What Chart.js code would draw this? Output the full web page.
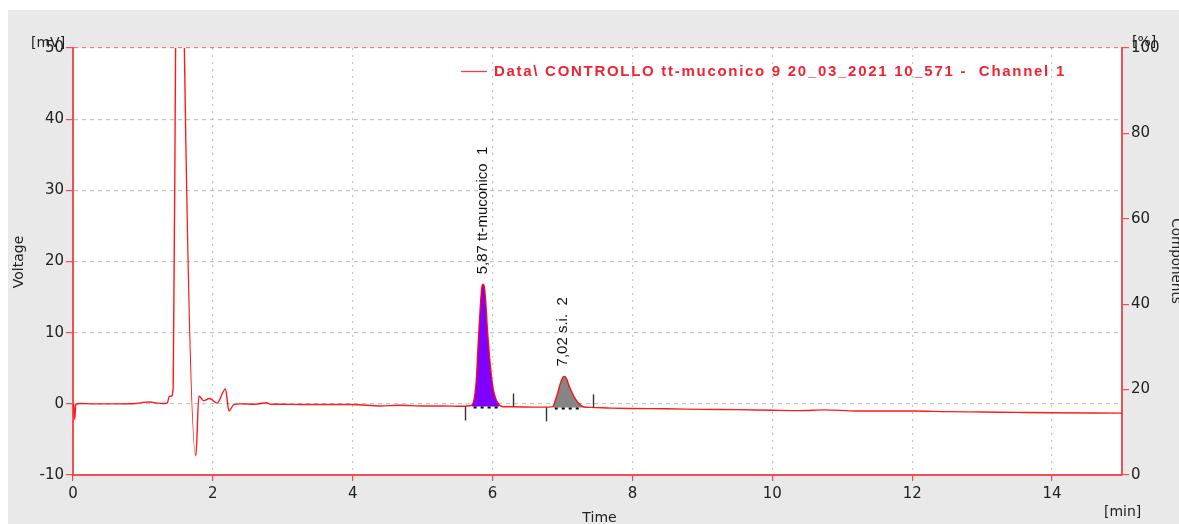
<!DOCTYPE html>
<html><head><meta charset="utf-8">
<script src="https://cdn.jsdelivr.net/npm/chart.js@4/dist/chart.umd.min.js"></script>
<style>
html,body{margin:0;padding:0;background:#fff;overflow:hidden;}
#c{position:absolute;left:0;top:0;}
</style></head><body>
<canvas id="c" width="1179" height="524"></canvas>
<script>
// ---- data ----
const times = [0, 0.012, 0.025, 0.04, 0.1, 0.3, 0.6, 0.9, 1.0, 1.1, 1.2, 1.3, 1.347, 1.376, 1.41, 1.433, 1.47, 1.53, 1.585, 1.757, 1.80, 1.87, 1.95, 2.06, 2.18, 2.23, 2.30, 2.39, 2.6, 2.77, 2.82, 3.0, 3.3, 3.6, 4.0, 4.4, 4.67, 5.0, 5.3, 5.55, 5.70, 5.74, 5.77, 5.79, 5.82, 5.845, 5.865, 5.88, 5.90, 5.925, 5.95, 5.98, 6.01, 6.05, 6.10, 6.15, 6.3, 6.6, 6.80, 6.86, 6.89, 6.93, 6.97, 7.01, 7.03, 7.06, 7.09, 7.13, 7.17, 7.22, 7.31, 7.40, 7.7, 8.0, 8.5, 9.0, 9.5, 10.0, 10.4, 10.75, 11.2, 11.6, 12.0, 12.5, 13.0, 13.5, 14.0, 14.5, 15.0];
const voltages = [0, -0.3, -2.2, -0.1, 0.05, 0, 0, 0.05, 0.2, 0.25, 0.1, 0.05, 0.1, 1.0, 1.1, 2.4, 55, 110, 55, -7.3, 1.1, 0.45, 0.75, 0.1, 2.1, -1.0, -0.1, 0, -0.05, 0.15, -0.05, -0.05, -0.1, -0.1, -0.1, -0.3, -0.2, -0.3, -0.3, -0.35, -0.2, 0.9, 3.8, 7.8, 13.0, 16.3, 16.8, 16.5, 14.6, 10.6, 7.3, 4.2, 2.0, 0.6, -0.2, -0.4, -0.42, -0.46, -0.46, -0.4, 0.3, 1.5, 2.9, 3.8, 3.85, 3.5, 2.6, 1.7, 0.9, 0.2, -0.45, -0.5, -0.6, -0.65, -0.7, -0.78, -0.82, -0.9, -0.95, -0.85, -1.0, -1.0, -1.0, -1.1, -1.15, -1.2, -1.25, -1.28, -1.3];

const xTickStep = 2;            // 0,2,...,14 [min]
const leftTickStep = 10;        // -10 ... 50 [mV]
const rightTickStep = 20;       // 0 ... 100 [%]
const xRange = [0, 15];
const leftRange = [-10, 50];
const rightRange = [0, 100];

const peakRT = [5.87, 7.02];
const peakApex = [16.8, 3.85];
const peakLabels = ['5,87 tt-muconico  1', '7,02 s.i.  2'];
const peakStart = [5.61, 6.77];
const peakEnd = [6.29, 7.44];
const fillFrom = [5.70, 6.86];
const fillTo = [6.12, 7.31];
const baseLevel = [-0.38, -0.5];
const peakColors = ['#8000ff', '#858585'];

const legendText = 'Data\\ CONTROLLO tt-muconico 9 20_03_2021 10_571 -  Channel 1';
const xTitle = 'Time', yTitle = 'Voltage', y2Title = 'Components';
const xUnit = '[min]', yUnit = '[mV]', y2Unit = '[%]';

// ---- styling ----
const RED = 'rgba(240,50,60,0.85)';
const GRID = '#c4c4c4';
const TICKFONT = {family: 'DejaVu Sans', size: 15};
const TXT = '#222';

const pts = times.map((t, i) => ({x: t, y: voltages[i]}));
const segment = (a, b) => pts.filter(p => p.x >= a && p.x <= b);

const bgPlugin = {
  id: 'bg',
  beforeDraw(chart) {
    const {ctx, chartArea: a} = chart;
    ctx.save();
    ctx.fillStyle = '#ffffff'; ctx.fillRect(0, 0, chart.width, chart.height);
    ctx.fillStyle = '#e9e9e9'; ctx.fillRect(8, 10, chart.width - 8, chart.height - 10);
    ctx.fillStyle = '#ffffff'; ctx.fillRect(a.left, a.top, a.right - a.left, a.bottom - a.top);
    ctx.restore();
  }
};

const annotPlugin = {
  id: 'annot',
  afterDatasetsDraw(chart) {
    const {ctx, scales: {x, y}} = chart;
    ctx.save();
    for (let i = 0; i < peakRT.length; i++) {
      const yb = y.getPixelForValue(baseLevel[i]);
      ctx.strokeStyle = '#000'; ctx.lineWidth = 2; ctx.setLineDash([3, 4]);
      ctx.beginPath();
      ctx.moveTo(x.getPixelForValue(fillFrom[i]) + 2, yb + 1);
      ctx.lineTo(x.getPixelForValue(fillTo[i]) - 2, yb + 1);
      ctx.stroke();
      ctx.setLineDash([]);
      ctx.strokeStyle = '#333'; ctx.lineWidth = 1.4;
      const xs = Math.round(x.getPixelForValue(peakStart[i])) + 0.5;
      const xe = Math.round(x.getPixelForValue(peakEnd[i])) + 0.5;
      ctx.beginPath(); ctx.moveTo(xs, yb); ctx.lineTo(xs, yb + 14); ctx.stroke();
      ctx.beginPath(); ctx.moveTo(xe, yb); ctx.lineTo(xe, yb - 13); ctx.stroke();
      ctx.save();
      ctx.translate(x.getPixelForValue(peakRT[i]) - 1, y.getPixelForValue(peakApex[i]) - 10);
      ctx.rotate(-Math.PI / 2);
      ctx.font = '15px "Liberation Sans"';
      ctx.fillStyle = '#111';
      ctx.textAlign = 'left'; ctx.textBaseline = 'middle';
      ctx.fillText(peakLabels[i], 0, 0);
      ctx.restore();
    }
    ctx.restore();
  },
  afterDraw(chart) {
    const {ctx, chartArea: a} = chart;
    ctx.save();
    ctx.strokeStyle = 'rgba(240,40,50,0.9)'; ctx.lineWidth = 1.3;
    ctx.beginPath(); ctx.moveTo(461, 71.5); ctx.lineTo(487, 71.5); ctx.stroke();
    ctx.font = 'bold 15px "Liberation Sans"';
    ctx.fillStyle = 'rgb(240,35,50)';
    ctx.textAlign = 'left'; ctx.textBaseline = 'middle';
    const w = ctx.measureText(legendText).width;
    ctx.letterSpacing = ((572 - w) / legendText.length).toFixed(2) + 'px';
    ctx.fillText(legendText, 494, 71.5);
    ctx.letterSpacing = '0px';
    ctx.fillStyle = TXT;
    ctx.font = '14px "DejaVu Sans"';
    ctx.textAlign = 'left';
    ctx.fillText(yUnit, 31, 43);
    ctx.fillText(y2Unit, 1132, 42);
    ctx.fillText(xUnit, 1104, 512);
    ctx.textAlign = 'center'; ctx.textBaseline = 'top';
    ctx.fillText(xTitle, (a.left + a.right) / 2 + 2, 511);
    ctx.save();
    ctx.translate(19, 262); ctx.rotate(-Math.PI / 2);
    ctx.textAlign = 'center'; ctx.textBaseline = 'middle';
    ctx.fillText(yTitle, 0, 0);
    ctx.restore();
    ctx.save();
    ctx.translate(1172, 261); ctx.rotate(Math.PI / 2);
    ctx.font = '13.5px "DejaVu Sans"';
    ctx.textAlign = 'center'; ctx.textBaseline = 'alphabetic';
    ctx.fillText(y2Title, 0, 0);
    ctx.restore();
    ctx.restore();
  }
};

new Chart(document.getElementById('c'), {
  type: 'line',
  data: {
    datasets: [
      {data: pts, borderColor: 'rgba(255,0,0,0.9)', borderWidth: 1.4, pointRadius: 0,
       cubicInterpolationMode: 'monotone', fill: false, order: 0},
      {data: segment(fillFrom[0], fillTo[0]), borderWidth: 0, pointRadius: 0,
       backgroundColor: peakColors[0], fill: {value: baseLevel[0]}, cubicInterpolationMode: 'monotone', order: 1},
      {data: segment(fillFrom[1], fillTo[1]), borderWidth: 0, pointRadius: 0,
       backgroundColor: peakColors[1], fill: {value: baseLevel[1]}, cubicInterpolationMode: 'monotone', order: 1}
    ]
  },
  options: {
    responsive: false, animation: false, devicePixelRatio: 1,
    layout: {padding: {top: 48, left: 0, right: 0, bottom: 0}},
    plugins: {legend: {display: false}, tooltip: {enabled: false}},
    scales: {
      x: {
        type: 'linear', min: xRange[0], max: xRange[1],
        afterFit(s) { s.height = 49; },
        ticks: {stepSize: xTickStep, includeBounds: false, font: TICKFONT, color: TXT, padding: 4, maxRotation: 0, autoSkip: false},
        grid: {color: c => (c.tick && c.tick.value === 0) ? 'rgba(0,0,0,0)' : GRID, tickColor: RED, tickLength: 6, lineWidth: 1.2},
        border: {color: RED, width: 2, dash: [2, 5]}
      },
      y: {
        position: 'left', min: leftRange[0], max: leftRange[1],
        afterFit(s) { s.width = 73; },
        ticks: {stepSize: leftTickStep, font: TICKFONT, color: TXT, padding: 2},
        grid: {color: c => (c.tick && c.tick.value === leftRange[1]) ? 'rgba(240,70,80,0.7)' : (c.tick && c.tick.value === leftRange[0]) ? 'rgba(0,0,0,0)' : GRID,
               tickColor: RED, tickLength: 7, lineWidth: 1.2},
        border: {color: RED, width: 2, dash: [4, 4]}
      },
      y2: {
        position: 'right', min: rightRange[0], max: rightRange[1],
        afterFit(s) { s.width = 57; },
        ticks: {stepSize: rightTickStep, font: TICKFONT, color: TXT, padding: 2},
        grid: {drawOnChartArea: false, tickColor: RED, tickLength: 7, lineWidth: 1.2},
        border: {color: RED, width: 2}
      }
    }
  },
  plugins: [bgPlugin, annotPlugin]
});
</script>
</body></html>
